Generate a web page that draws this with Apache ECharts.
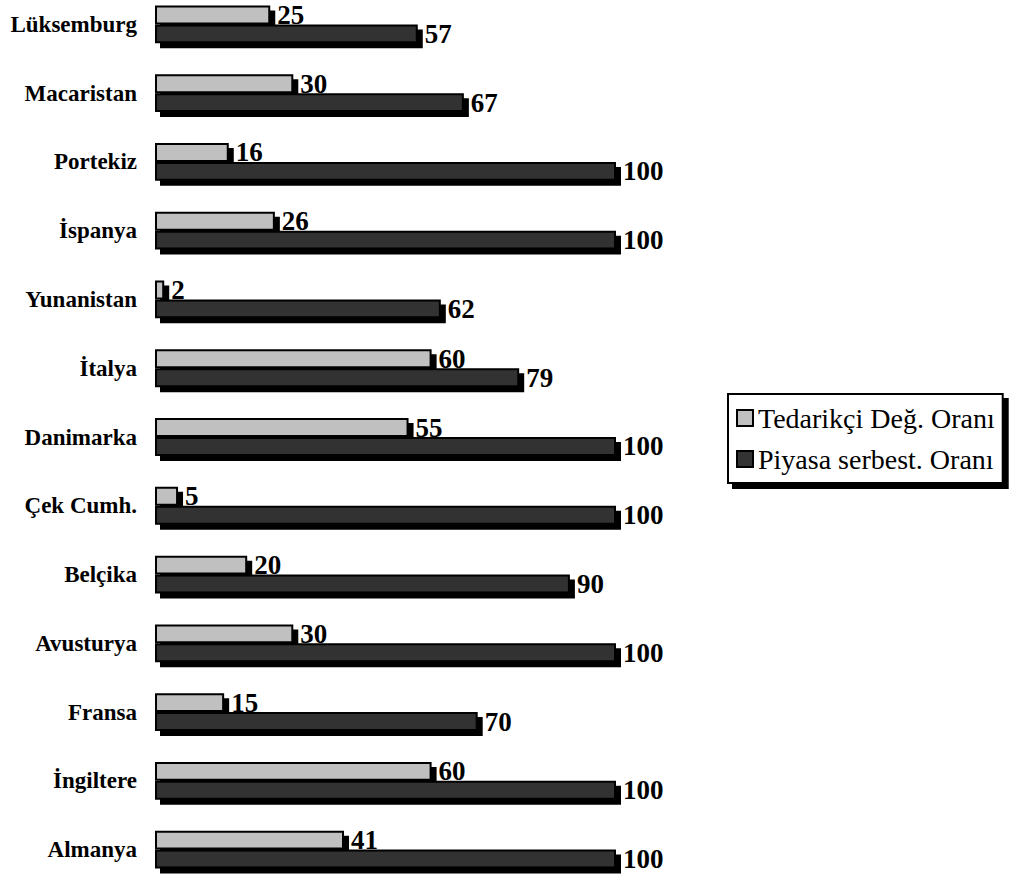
<!DOCTYPE html>
<html>
<head>
<meta charset="utf-8">
<script src="https://cdn.jsdelivr.net/npm/echarts@6/dist/echarts.min.js"></script>
<style>
  html, body { margin: 0; padding: 0; background: #fff; overflow: hidden; }
  #wrap { position: relative; width: 1009px; height: 879px; overflow: hidden; }
  #chart { position: absolute; left: 0; top: -10px; width: 1009px; height: 894px; }
</style>
</head>
<body>
<div id="wrap"><div id="chart"></div></div>
<script>
// Countries, listed top to bottom
const countries = ['Lüksemburg', 'Macaristan', 'Portekiz', 'İspanya', 'Yunanistan', 'İtalya',
  'Danimarka', 'Çek Cumh.', 'Belçika', 'Avusturya', 'Fransa', 'İngiltere', 'Almanya'];

const supplierName = 'Tedarikçi Değ. Oranı';
const marketName = 'Piyasa serbest. Oranı';

// Supplier switching rate (%)
const supplierRate = [25, 30, 16, 26, 2, 60, 55, 5, 20, 30, 15, 60, 41];
// Market liberalisation rate (%)
const marketRate = [57, 67, 100, 100, 62, 79, 100, 100, 90, 100, 70, 100, 100];

const serif = 'Liberation Serif, serif';

function barSeries(name, data, color) {
  return {
    name: name,
    type: 'bar',
    data: data,
    barGap: '0%',
    barCategoryGap: '45%',
    itemStyle: {
      color: color,
      borderColor: '#000',
      borderWidth: 2,
      shadowColor: '#000',
      shadowBlur: 0,
      shadowOffsetX: 5,
      shadowOffsetY: 5
    },
    label: {
      show: true,
      position: 'right',
      distance: 7,
      color: '#000',
      fontFamily: serif,
      fontWeight: 'bold',
      fontSize: 27
    },
    emphasis: { disabled: true }
  };
}

const chart = echarts.init(document.getElementById('chart'), null, { renderer: 'svg' });
chart.setOption({
  animation: false,
  backgroundColor: '#fff',
  grid: { left: 155, top: 0, width: 461, bottom: 0, containLabel: false },
  xAxis: {
    type: 'value',
    min: 0,
    max: 100,
    show: false
  },
  yAxis: {
    type: 'category',
    data: countries,
    inverse: true,
    axisLine: { show: false },
    axisTick: { show: false },
    splitLine: { show: false },
    axisLabel: {
      margin: 18,
      color: '#000',
      fontFamily: serif,
      fontWeight: 'bold',
      fontSize: 23
    }
  },
  legend: {
    orient: 'vertical',
    left: 728,
    top: 404,
    padding: [9, 8, 9, 8],
    itemGap: 11,
    itemWidth: 16,
    itemHeight: 16,
    icon: 'rect',
    backgroundColor: '#fff',
    borderColor: '#000',
    borderWidth: 2,
    shadowColor: '#000',
    shadowBlur: 0,
    shadowOffsetX: 5,
    shadowOffsetY: 5,
    itemStyle: {
      borderColor: '#000',
      borderWidth: 2,
      shadowColor: 'rgba(0,0,0,0)',
      shadowBlur: 0,
      shadowOffsetX: 0,
      shadowOffsetY: 0
    },
    textStyle: {
      color: '#000',
      fontFamily: serif,
      fontSize: 28,
      lineHeight: 30
    },
    data: [supplierName, marketName]
  },
  series: [
    barSeries(supplierName, supplierRate, '#c0c0c0'),
    barSeries(marketName, marketRate, '#333333')
  ]
});
</script>
</body>
</html>
